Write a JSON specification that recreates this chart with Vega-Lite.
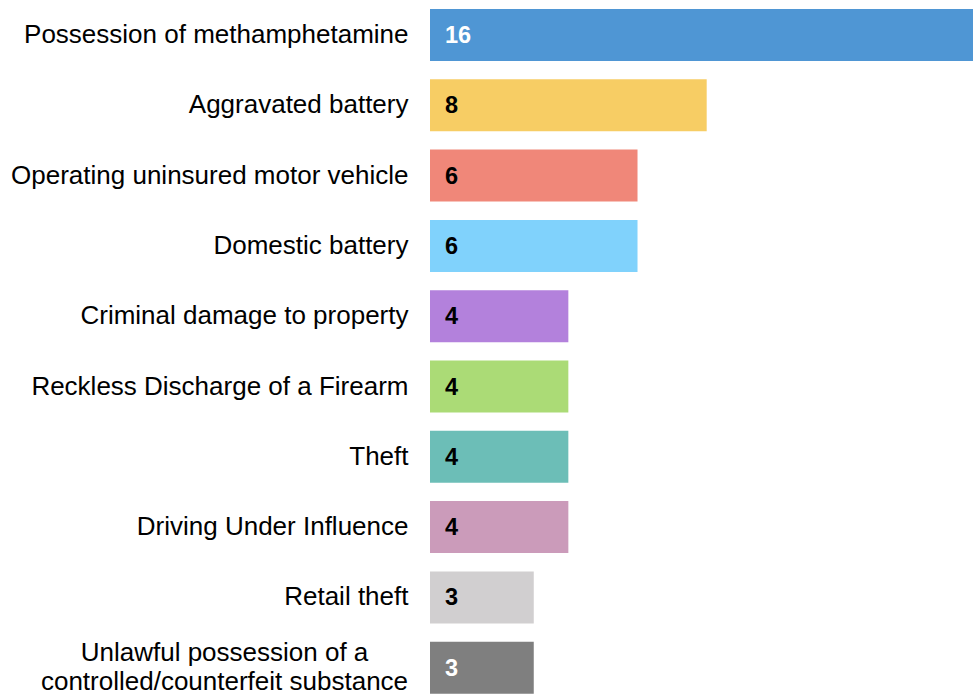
{
  "$schema": "https://vega.github.io/schema/vega-lite/v6.json",
  "autosize": {"type": "none"},
  "padding": {"left": 430, "top": 0, "right": 0, "bottom": 0},
  "width": 543,
  "height": 694,
  "background": "white",
  "config": {"view": {"stroke": null}, "font": "Liberation Sans"},
  "data": {"values": [
    {"offense": "Possession of methamphetamine", "count": 16, "color": "#4f96d4", "tc": "white"},
    {"offense": "Aggravated battery", "count": 8, "color": "#f7cd64", "tc": "black"},
    {"offense": "Operating uninsured motor vehicle", "count": 6, "color": "#f08779", "tc": "black"},
    {"offense": "Domestic battery", "count": 6, "color": "#80d2fc", "tc": "black"},
    {"offense": "Criminal damage to property", "count": 4, "color": "#b381dc", "tc": "black"},
    {"offense": "Reckless Discharge of a Firearm", "count": 4, "color": "#abdb76", "tc": "black"},
    {"offense": "Theft", "count": 4, "color": "#6cbeb7", "tc": "black"},
    {"offense": "Driving Under Influence", "count": 4, "color": "#cb9bba", "tc": "black"},
    {"offense": "Retail theft", "count": 3, "color": "#d1cfd0", "tc": "black"},
    {"offense": "Unlawful possession of a controlled/counterfeit substance", "count": 3, "color": "#7f7f7f", "tc": "white"}
  ]},
  "encoding": {
    "y": {
      "field": "offense", "type": "nominal", "sort": null,
      "scale": {"paddingInner": 0.26, "paddingOuter": 0.066, "align": 0.97},
      "axis": {
        "title": null, "domain": false, "ticks": false, "tickSize": 0,
        "labelFontSize": 26, "labelColor": "#000000", "labelFont": "Liberation Sans",
        "labelLimit": 0, "labelLineHeight": 29,
        "labelExpr": "datum.label == 'Unlawful possession of a controlled/counterfeit substance' ? ['Unlawful possession of a', 'controlled/counterfeit substance'] : datum.label",
        "labelAlign": {"condition": {"test": "datum.label == 'Unlawful possession of a controlled/counterfeit substance'", "value": "center"}, "value": "right"},
        "labelPadding": {"condition": {"test": "datum.label == 'Unlawful possession of a controlled/counterfeit substance'", "value": 206}, "value": 22},
        "labelOffset": {"condition": {"test": "datum.label == 'Unlawful possession of a controlled/counterfeit substance'", "value": -14.5}, "value": 0}
      }
    }
  },
  "layer": [
    {
      "mark": {"type": "bar", "clip": true},
      "encoding": {
        "x": {"field": "count", "type": "quantitative", "scale": {"domain": [0, 15.7], "nice": false}, "axis": null},
        "color": {"field": "color", "type": "nominal", "scale": null}
      }
    },
    {
      "mark": {"type": "text", "align": "left", "baseline": "middle", "dx": 15, "dy": 1, "fontSize": 23.5, "fontWeight": "bold", "font": "Liberation Sans"},
      "encoding": {
        "x": {"datum": 0, "type": "quantitative"},
        "text": {"field": "count", "type": "quantitative"},
        "color": {"field": "tc", "type": "nominal", "scale": null}
      }
    }
  ]
}
